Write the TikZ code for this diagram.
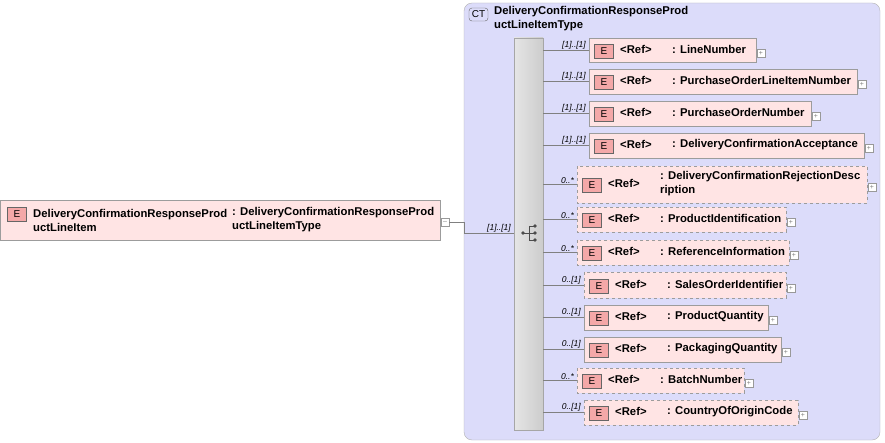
\documentclass[tikz,border=0pt]{standalone}
\usepackage{fontspec}
\setmainfont{Liberation Sans}
\usetikzlibrary{positioning}
\definecolor{elfill}{HTML}{FFE4E4}
\definecolor{elline}{HTML}{9C9C9C}
\definecolor{ctfill}{HTML}{DCDCFA}
\definecolor{badge}{HTML}{F4A8A8}
\tikzset{
  elem/.style={draw=elline, fill=elfill, anchor=north west, inner sep=0pt},
  opt/.style={elem, dashed},
  badgeE/.style={draw=black!60, fill=badge, minimum width=19pt, minimum height=14pt, inner sep=0pt, font=\fontsize{10}{10}\selectfont},
  txt/.style={anchor=west, inner sep=0pt, align=left, font=\bfseries\fontsize{11.3}{14}\selectfont},
  card/.style={anchor=south east, inner sep=1pt, font=\itshape\fontsize{8.5}{9}\selectfont},
  plusbox/.style={draw=black!40, fill=white, minimum size=8pt, inner sep=0pt, font=\fontsize{7}{7}\selectfont, text=black!50},
  link/.style={draw=black!50}
}
\begin{document}
\begin{tikzpicture}[x=1pt,y=-1pt]
\useasboundingbox (0,0) rectangle (885,443);
% complex type container
\path[draw=black!30, fill=ctfill, rounded corners=8pt] (464,3) rectangle (880,440);
\node[draw=black!60, fill=ctfill, rounded corners=3pt, minimum width=19pt, minimum height=13pt, inner sep=0pt, font=\fontsize{10}{10}\selectfont] (ct) at (478.5,14.5) {CT};
\node[txt, anchor=north west] (cttitle) at (494,6) {DeliveryConfirmationResponseProd\\uctLineItemType};
% sequence bar
\path[left color=white!90!black, right color=white!80!black, draw=black!35] (514,38) rectangle (543,430);
\node[inner sep=0pt] (seq) at (529,233) {};
\fill[black!70] (523,233) circle (1.8pt);
\draw[black!70] (523,233) -- (529,233) (529,226) -- (529,240) (529,226) -- (535,226) (529,233) -- (535,233) (529,240) -- (535,240);
\foreach \yy in {226,233,240} \fill[black!70] (535,\yy) circle (1.8pt);
% root element
\path[elem] (0,200) rectangle (440,240);
\node[badgeE] (rootE) at (17,214.5) {E};
\node[txt] (rootname) at (33,220) {DeliveryConfirmationResponseProd\\uctLineItem};
\node[txt] (roottype) at (232,220) {: DeliveryConfirmationResponseProd\\uctLineItemType};
\node[plusbox] (rootminus) at (445,222) {--};
\coordinate (seqin) at (514,233);
\draw[link] (rootminus.east) -- (464,222) |- (seqin);
\node[card] at (512,233) {[1]..[1]};
% children
\foreach \n/\top/\bot/\lft/\rgt/\crd/\sty/\lbl in {
  a/38/62/589/756/{[1]..[1]}/elem/{LineNumber},
  b/69/94/589/857/{[1]..[1]}/elem/{PurchaseOrderLineItemNumber},
  c/101/126/589/811/{[1]..[1]}/elem/{PurchaseOrderNumber},
  d/133/158/589/864/{[1]..[1]}/elem/{DeliveryConfirmationAcceptance},
  e/166/203/577/867/{0..*}/opt/{DeliveryConfirmationRejectionDesc\\ription},
  f/207/232/577/786/{0..*}/opt/{ProductIdentification},
  g/240/265/577/789/{0..*}/opt/{ReferenceInformation},
  h/272/298/584/786/{0..[1]}/opt/{SalesOrderIdentifier},
  i/305/330/584/768/{0..[1]}/elem/{ProductQuantity},
  j/337/362/584/781/{0..[1]}/elem/{PackagingQuantity},
  k/368/393/577/744/{0..*}/opt/{BatchNumber},
  l/400/425/584/798/{0..[1]}/opt/{CountryOfOriginCode}} {
  \path[\sty] (\lft,\top) rectangle (\rgt,\bot);
  \coordinate (\n in) at (\lft,{(\top+\bot)/2});
  \node[badgeE] (\n E) at (\lft+15,{(\top+\bot)/2+1}) {E};
  \node[txt] (\n ref) at (\lft+31,{(\top+\bot)/2-1}) {<Ref>};
  \node[txt] (\n name) at (\lft+83,{(\top+\bot)/2-1}) {: \lbl};
  \node[plusbox] (\n plus) at (\rgt+5,{(\top+\bot)/2+3}) {+};
  \draw[link] (543,{(\top+\bot)/2}) -- (\n in);
  \node[card] at (\lft-2,{(\top+\bot)/2}) {\crd};
}
\end{tikzpicture}
\end{document}
